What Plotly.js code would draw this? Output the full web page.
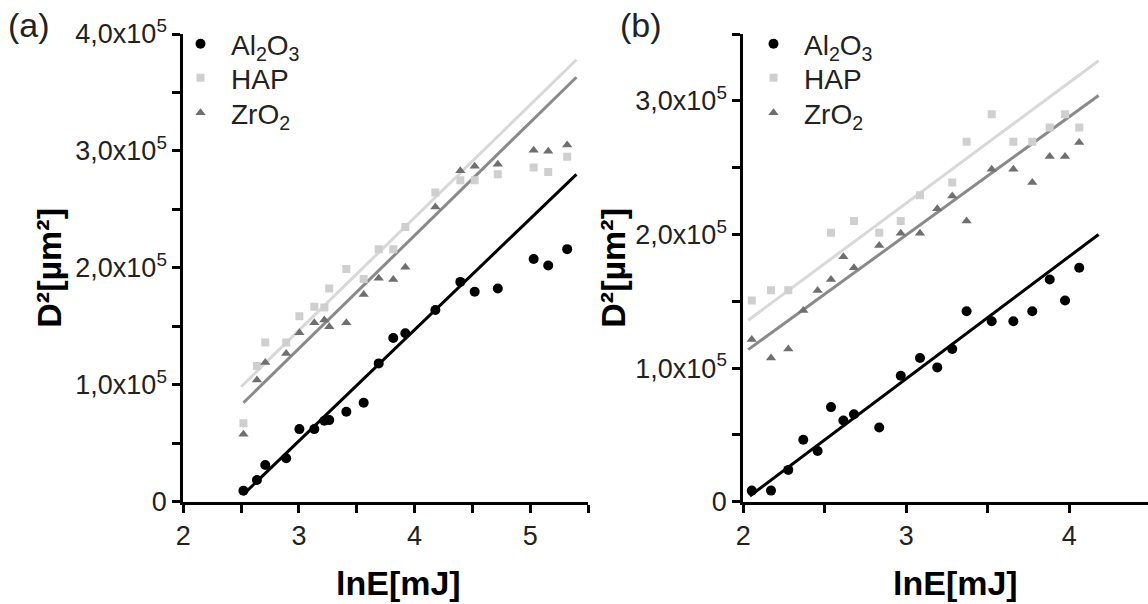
<!DOCTYPE html>
<html>
<head>
<meta charset="utf-8">
<script src="https://cdn.plot.ly/plotly-3.0.1.min.js"></script>
<style>html,body{margin:0;padding:0;background:#fff}#plot{width:1148px;height:604px}</style>
</head>
<body>
<div id="plot"></div>
<script>
// ---------- Panel (a) data ----------
const aX   = [2.52, 2.637, 2.709, 2.89, 3.004, 3.133, 3.22, 3.262, 3.41, 3.56, 3.69, 3.816, 3.92, 4.18, 4.396, 4.52, 4.72, 5.03, 5.156, 5.32];
const aAl  = [9400, 18500, 31400, 37100, 62100, 62100, 69200, 69800, 76900, 84600, 118300, 140000, 144000, 164000, 188000, 179500, 182400, 207500, 202000, 216000];
const aHAP = [67000, 116000, 136200, 136200, 158700, 166700, 166000, 182400, 199000, 190500, 216000, 216000, 235000, 264500, 275000, 275000, 280000, 285800, 282000, 295000];
const aZr  = [57600, 104000, 119000, 126800, 144500, 153000, 155300, 149600, 153000, 177300, 191000, 190000, 200500, 252000, 283000, 287000, 288600, 300600, 299700, 305000];
const aFitAlX = [2.52, 5.40],  aFitAlY = [6300, 280000];
const aFitHAPX = [2.50, 5.40], aFitHAPY = [98300, 378000];
const aFitZrX = [2.52, 5.40],  aFitZrY = [84600, 363000];

// ---------- Panel (b) data ----------
const bX   = [2.052, 2.17, 2.276, 2.368, 2.456, 2.538, 2.614, 2.679, 2.834, 2.966, 3.084, 3.19, 3.282, 3.37, 3.524, 3.657, 3.773, 3.88, 3.974, 4.061];
const bAl  = [8300, 8300, 23800, 46300, 38000, 70800, 60800, 65500, 55500, 94300, 107600, 100500, 114300, 142500, 135000, 135000, 142500, 166300, 150600, 175100];
const bZr  = [121300, 107600, 114300, 143000, 158000, 166300, 183300, 175100, 191800, 200800, 200800, 219300, 228800, 210000, 248800, 248800, 238800, 258300, 258300, 268800];
const bHAPX = [2.052, 2.17, 2.276, 2.538, 2.679, 2.834, 2.966, 3.084, 3.282, 3.37, 3.524, 3.657, 3.773, 3.88, 3.974, 4.061];
const bHAP  = [150600, 158300, 158300, 201300, 210000, 201300, 210000, 229300, 238800, 269300, 290000, 269300, 269300, 280000, 290000, 280000];
const bFitAlX = [2.04, 4.18],  bFitAlY = [4300, 200000];
const bFitHAPX = [2.03, 4.18], bFitHAPY = [135800, 330000];
const bFitZrX = [2.03, 4.18],  bFitZrY = [113800, 304000];

// ---------- Labels ----------
const seriesNames = ['Al<sub>2</sub>O<sub>3</sub>', 'HAP', 'ZrO<sub>2</sub>'];
const xTickValsA = [2, 2.5, 3, 3.5, 4, 4.5, 5, 5.5];
const xTickTextA = ['2', '', '3', '', '4', '', '5', ''];
const xTickValsB = [2, 2.5, 3, 3.5, 4];
const xTickTextB = ['2', '', '3', '', '4'];
const yTickValsA = [0, 50000, 100000, 150000, 200000, 250000, 300000, 350000, 400000];
const yTickTextA = ['0', '', '1,0x10<sup>5</sup>', '', '2,0x10<sup>5</sup>', '', '3,0x10<sup>5</sup>', '', '4,0x10<sup>5</sup>'];
const yTickValsB = [0, 50000, 100000, 150000, 200000, 250000, 300000, 350000];
const yTickTextB = ['0', '', '1,0x10<sup>5</sup>', '', '2,0x10<sup>5</sup>', '', '3,0x10<sup>5</sup>', ''];
const xTitle = 'lnE[mJ]';
const yTitle = 'D²[µm²]';

const FONT = 'Arial, "Liberation Sans", sans-serif';
const cAl = '#000000', cHAPm = '#cfcfcf', cHAPl = '#d8d8d8', cZrm = '#6f6f6f', cZrl = '#8a8a8a';

function pts(x, y, name, sym, size, color, xa, ya, leg) {
  return {x: x, y: y, name: name, type: 'scatter', mode: 'markers', xaxis: xa, yaxis: ya,
    legend: leg, marker: {symbol: sym, size: size, color: color, line: {width: 0}}, hoverinfo: 'x+y'};
}
function fit(x, y, color, xa, ya) {
  return {x: x, y: y, type: 'scatter', mode: 'lines', xaxis: xa, yaxis: ya, showlegend: false,
    line: {color: color, width: 3}, hoverinfo: 'skip'};
}

const data = [
  fit(aFitHAPX, aFitHAPY, cHAPl, 'x', 'y'),
  fit(aFitZrX, aFitZrY, cZrl, 'x', 'y'),
  fit(aFitAlX, aFitAlY, cAl, 'x', 'y'),
  pts(aX, aAl, seriesNames[0], 'circle', 10, cAl, 'x', 'y', 'legend'),
  pts(aX, aHAP, seriesNames[1], 'square', 8, cHAPm, 'x', 'y', 'legend3'),
  pts(aX, aZr, seriesNames[2], 'triangle-up', 9, cZrm, 'x', 'y', 'legend5'),
  fit(bFitHAPX, bFitHAPY, cHAPl, 'x2', 'y2'),
  fit(bFitZrX, bFitZrY, cZrl, 'x2', 'y2'),
  fit(bFitAlX, bFitAlY, cAl, 'x2', 'y2'),
  pts(bX, bAl, seriesNames[0], 'circle', 10, cAl, 'x2', 'y2', 'legend2'),
  pts(bHAPX, bHAP, seriesNames[1], 'square', 8, cHAPm, 'x2', 'y2', 'legend4'),
  pts(bX, bZr, seriesNames[2], 'triangle-up', 9, cZrm, 'x2', 'y2', 'legend6')
];

const axCommon = {
  showgrid: false, zeroline: false, showline: true, linecolor: '#000', linewidth: 3,
  ticks: 'outside', ticklen: 8, tickwidth: 3, tickcolor: '#000',
  tickfont: {family: FONT, size: 27, color: '#222'}, tickmode: 'array', fixedrange: true
};
const titleFont = {family: FONT, size: 34, color: '#000', weight: 'bold'};

const yDom = [(604 - 501.7) / 604, (604 - 34) / 604];
const legFont = {family: FONT, size: 28, color: '#222'};
function leg(xPx, yPx) {
  return {x: xPx / 1148, y: 1 - yPx / 604, xanchor: 'left', yanchor: 'middle', bgcolor: 'rgba(0,0,0,0)',
    font: legFont, itemwidth: 51, borderwidth: 0};
}

const layout = {
  width: 1148, height: 604,
  margin: {l: 0, r: 0, t: 0, b: 0},
  paper_bgcolor: '#fff', plot_bgcolor: 'rgba(0,0,0,0)',
  font: {family: FONT},
  showlegend: true,
  xaxis: Object.assign({}, axCommon, {domain: [183.3 / 1148, 588 / 1148], range: [2, 5.5], anchor: 'y',
    tickvals: xTickValsA, ticktext: xTickTextA}),
  yaxis: Object.assign({}, axCommon, {domain: yDom, range: [0, 400000], anchor: 'x',
    tickvals: yTickValsA, ticktext: yTickTextA, title: {text: '<b>' + yTitle + '</b>', font: titleFont, standoff: 4}}),
  xaxis2: Object.assign({}, axCommon, {domain: [743.3 / 1148, 1], range: [2, 4.483], anchor: 'y2',
    tickvals: xTickValsB, ticktext: xTickTextB}),
  yaxis2: Object.assign({}, axCommon, {domain: yDom, range: [0, 350000], anchor: 'x2',
    tickvals: yTickValsB, ticktext: yTickTextB, title: {text: '<b>' + yTitle + '</b>', font: titleFont, standoff: 0}}),
  legend: leg(170, 44),
  legend3: leg(170, 78),
  legend5: leg(170, 113),
  legend2: leg(743, 44),
  legend4: leg(743, 78),
  legend6: leg(743, 113),
  annotations: [
    {text: '(a)', xref: 'paper', yref: 'paper', x: 6 / 1148, y: 1 - 4 / 604, xanchor: 'left', yanchor: 'top',
      showarrow: false, font: {family: FONT, size: 34, color: '#222'}},
    {text: '(b)', xref: 'paper', yref: 'paper', x: 618 / 1148, y: 1 - 4 / 604, xanchor: 'left', yanchor: 'top',
      showarrow: false, font: {family: FONT, size: 34, color: '#222'}},
    {text: '<b>' + xTitle + '</b>', xref: 'paper', yref: 'paper', x: 398 / 1148, y: 1 - 583 / 604,
      xanchor: 'center', yanchor: 'middle', showarrow: false, font: titleFont},
    {text: '<b>' + xTitle + '</b>', xref: 'paper', yref: 'paper', x: 955 / 1148, y: 1 - 583 / 604,
      xanchor: 'center', yanchor: 'middle', showarrow: false, font: titleFont}
  ]
};

Plotly.newPlot('plot', data, layout, {displayModeBar: false, staticPlot: true});
</script>
</body>
</html>
